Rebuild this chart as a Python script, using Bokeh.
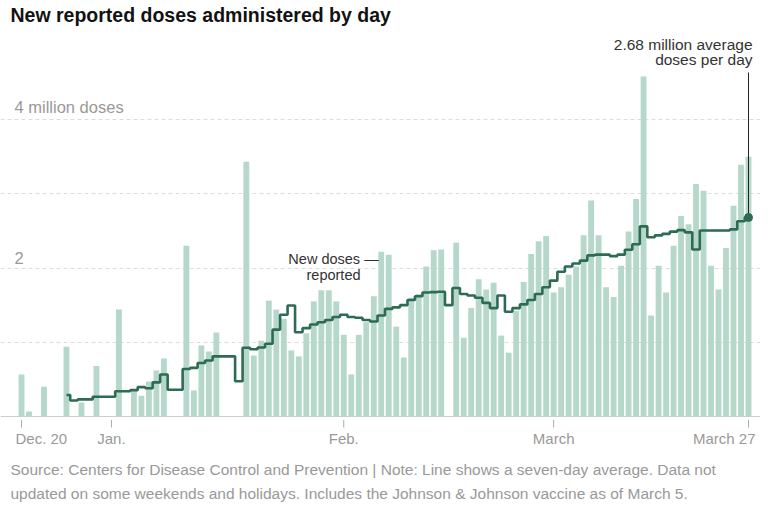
import pandas as pd
from bokeh.plotting import figure
from bokeh.models import Range1d, Grid, FixedTicker, ColumnDataSource
from bokeh.core.properties import value
from bokeh.embed import file_html
from bokeh.resources import INLINE

# ---------------- data ----------------
dates = pd.date_range("2020-12-20", "2021-03-27", freq="D")

# new reported doses per day, millions (None = no report)
doses = [
    0.566, 0.067, None, 0.40, None, None, 0.94, None, 0.19, None,
    0.68, None, None, 1.44, None, 0.35, 0.28, 0.47, 0.62, 0.78,
    None, None, 2.30, 0.35, 0.955, 0.875, 1.13, None, None, None,
    3.43, 0.82, 1.02, 1.56, 1.44, 1.315, 0.89, 0.81, 1.12, 1.55,
    1.70, 1.70, 1.55, 1.10, 0.566, 1.10, 1.27, 1.62, 2.22, 2.18,
    1.21, 0.795, 1.60, 1.65, 2.02, 2.24, 2.25, None, 2.34, 1.06,
    1.46, 1.85, 1.71, 1.80, 1.09, 0.86, 1.42, 1.81, 2.19, 2.36,
    2.43, 1.67, 1.74, 1.91, 2.02, 2.44, 2.91, 2.44, 1.74, 1.61,
    2.03, 2.49, 2.93, 4.58, 1.36, 2.03, 1.67, 2.30, 2.70, 2.59,
    3.13, 3.04, 2.03, 1.71, 2.27, 2.84, 3.39, 3.50,
]

# seven-day average, millions, from Dec. 26
avg_start = "2020-12-26"
avg = [
    0.29, 0.215, 0.23, 0.23,
    0.265, 0.265, 0.265, 0.34, 0.34, 0.355, 0.395, 0.38, 0.46, 0.565,
    0.36, 0.36, 0.64, 0.655, 0.72, 0.755, 0.81, 0.81, 0.81, 0.475,
    0.925, 0.905, 0.93, 0.98, 1.17, 1.37, 1.495, 1.135, 1.19, 1.24,
    1.27, 1.30, 1.34, 1.37, 1.34, 1.33, 1.30, 1.28, 1.36, 1.45,
    1.47, 1.50, 1.57, 1.62, 1.67, 1.675, 1.68, 1.50, 1.73, 1.65,
    1.63, 1.60, 1.53, 1.46, 1.63, 1.41, 1.46, 1.51, 1.57, 1.65,
    1.74, 1.83, 1.95, 2.02, 2.06, 2.10, 2.17, 2.18, 2.18, 2.16,
    2.18, 2.245, 2.32, 2.56, 2.415, 2.44, 2.46, 2.49, 2.51, 2.48,
    2.25, 2.505, 2.505, 2.505, 2.505, 2.52, 2.63, 2.68,
]

tick_dates = ["2020-12-20", "2021-01-01", "2021-02-01", "2021-03-01", "2021-03-27"]
tick_labels = ["Dec. 20", "Jan.", "Feb.", "March", "March 27"]
grid_values = [1, 2, 3, 4]
label_values = [4, 2]
label_texts = ["4 million doses", "2"]

title = "New reported doses administered by day"
footer = [
    "Source: Centers for Disease Control and Prevention | Note: Line shows a seven-day average. Data not",
    "updated on some weekends and holidays. Includes the Johnson & Johnson vaccine as of March 5.",
]

# ---------------- layout ----------------
W, H = 760, 514
DAY = 86400000.0
t0 = dates[0].value / 1e6
X0, X97 = 21.0, 748.0
px_day = (X97 - X0) / 97.0
def fx_to_ms(fx):
    return t0 + (fx - X0) / px_day * DAY

BASE = 416.0          # baseline in figure px
PX_M = 74.25          # px per million
y_start = -(H - BASE) / PX_M
y_end = BASE / PX_M

BAR = "#b5d8ca"
LINE = "#2d6b55"
GREY = "#999999"
FONT = value("Liberation Sans")

p = figure(width=W, height=H, output_backend="svg", toolbar_location=None,
           x_axis_type="datetime", x_axis_location=None, y_axis_location=None,
           x_range=Range1d(fx_to_ms(0), fx_to_ms(W)),
           y_range=Range1d(y_start, y_end),
           min_border=0, outline_line_color=None)
p.grid.visible = False
p.extra_x_ranges = {"px": Range1d(0, W)}
p.extra_y_ranges = {"px": Range1d(H, 0)}

p.add_layout(Grid(dimension=1, ticker=FixedTicker(ticks=grid_values),
                  grid_line_color="#dddddd", grid_line_dash="4 3",
                  bounds=(fx_to_ms(12), fx_to_ms(755))))
p.add_layout(Grid(dimension=1, ticker=FixedTicker(ticks=[0]),
                  grid_line_color="#cccccc", bounds=(fx_to_ms(12), fx_to_ms(757))))

# bars
bar_src = ColumnDataSource(dict(
    x=[d for d, v in zip(dates, doses) if v is not None],
    top=[v for v in doses if v is not None]))
p.vbar(x="x", top="top", bottom=0, width=0.78 * DAY, source=bar_src,
       fill_color=BAR, line_color=None)

# seven-day average step line
avg_dates = pd.date_range(avg_start, periods=len(avg), freq="D")
p.step(x=list(avg_dates), y=avg, mode="center", line_color=LINE, line_width=2.6)

# end annotation
last_x, last_y = avg_dates[-1], avg[-1]
p.segment(x0=[last_x], y0=[last_y], x1=[last_x], y1=[4.633],
          line_color="#222222", line_width=1)
p.scatter(x=[last_x], y=[last_y], size=8, fill_color=LINE, line_color=LINE)
p.text(x=[last_x, last_x], y=[43.5, 59],
       text=[f"{last_y:.2f} million average", "doses per day"],
       y_range_name="px", x_offset=4, text_align="right", text_baseline="middle",
       text_font=FONT, text_font_size="15.5px", text_color="#333333")

# "New doses reported" label
p.text(x=[333, 333], y=[258, 274], text=["New doses \u2014", "reported"],
       x_range_name="px", y_range_name="px", text_align="center",
       text_baseline="middle", text_font=FONT, text_font_size="14.5px",
       text_color="#333333")

# y labels
ylab_src = ColumnDataSource(dict(x=[14] * len(label_values), y=label_values,
                                 text=label_texts, yo=[-12.5, -10.5]))
p.text(x="x", y="y", text="text", y_offset="yo", source=ylab_src,
       x_range_name="px", text_align="left", text_baseline="middle",
       text_font=FONT, text_font_size="16.5px", text_color=GREY)

# x ticks and labels
tds = pd.to_datetime(tick_dates)
p.segment(x0=list(tds), x1=list(tds), y0=[419.5] * len(tds), y1=[427] * len(tds),
          y_range_name="px", line_color="#aaaaaa", line_width=1)
common = dict(y_range_name="px", text_baseline="middle", text_font=FONT,
              text_font_size="15px", text_color=GREY)
p.text(x=[tds[0]], y=[438], text=[tick_labels[0]], text_align="left", x_offset=-6, **common)
p.text(x=list(tds[1:-1]), y=[438] * 3, text=tick_labels[1:-1], text_align="center", **common)
p.text(x=[tds[-1]], y=[438], text=[tick_labels[-1]], text_align="right", x_offset=7, **common)

# title and footer
p.text(x=[10], y=[14.5], text=[title], x_range_name="px", y_range_name="px",
       text_align="left", text_baseline="middle", text_font=FONT,
       text_font_size="19.5px", text_font_style="bold", text_color="#121212")
p.text(x=[10, 10], y=[469, 493], text=footer, x_range_name="px", y_range_name="px",
       text_align="left", text_baseline="middle", text_font=FONT,
       text_font_size="15.5px", text_color=GREY)

open("out.html", "w").write(file_html(p, INLINE))
